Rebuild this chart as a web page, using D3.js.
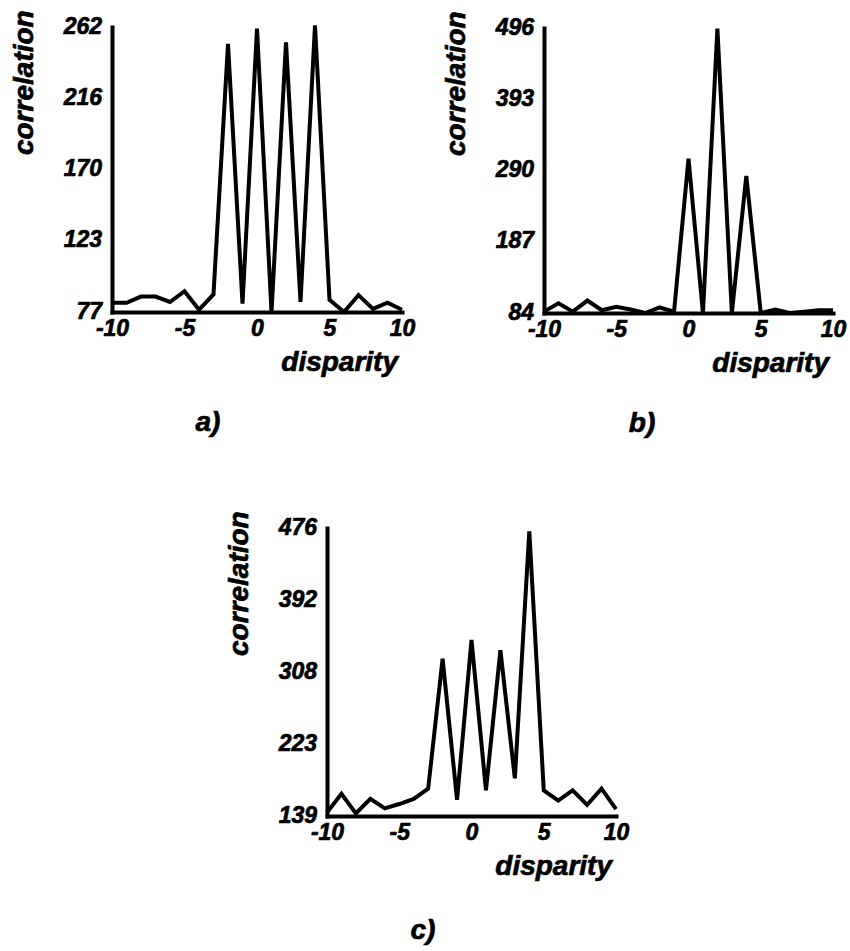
<!DOCTYPE html>
<html lang="en">
<head>
    <meta charset="UTF-8">
    <title>Correlation vs disparity</title>
    <script src="https://d3js.org/d3.v7.min.js"></script>
    <style>
        body { margin: 0; background: #fff; }
        text { font-family: "Liberation Sans", Arial, Helvetica, sans-serif; font-weight: bold; font-style: italic; fill: #000; stroke: #000; stroke-width: 0.7; }
        .line { fill: none; stroke: #000; stroke-width: 4; stroke-linejoin: miter; stroke-miterlimit: 6; }
        .axis path { stroke: #000; stroke-width: 4; stroke-linecap: square; }
        .axis text { font-size: 23px; }
    </style>
</head>
<body>
<svg id="chart" width="850" height="951"></svg>
<script>
    // disparity values, shared by all three panels
    const disparity = d3.range(-10, 11);
    const xTicks = [-10, -5, 0, 5, 10];

    // correlation
    const corrA = [83, 83, 87, 87, 83.5, 90.5, 78.5, 88.5, 251, 82.5, 261, 77, 252, 83.5, 263, 85, 77, 88, 79, 83, 78.5];
    const corrB = [86, 98, 86, 102, 88, 93, 89, 84, 92, 86, 307, 84, 495, 84, 282, 84, 89, 84, 86, 88, 88];
    const corrC = [143, 165, 142, 159, 148, 153, 159, 171, 323, 158, 345, 169, 333, 183, 472, 169, 157, 169, 152, 171, 147];

    // y range of each panel (min, max) and the rounded tick labels
    const rangeA = [77, 262], ticksA = ["77", "123", "170", "216", "262"];
    const rangeB = [84, 496], ticksB = ["84", "187", "290", "393", "496"];
    const rangeC = [139, 476], ticksC = ["139", "223", "308", "392", "476"];

    const panels = [
        { values: corrA, range: rangeA, labels: ticksA, tag: "a)", x0: 112, x1: 402, top: 27, bottom: 312, tagX: 208, tagY: 431 },
        { values: corrB, range: rangeB, labels: ticksB, tag: "b)", x0: 544, x1: 833, top: 28, bottom: 313, tagX: 642, tagY: 432 },
        { values: corrC, range: rangeC, labels: ticksC, tag: "c)", x0: 327, x1: 616, top: 528, bottom: 816, tagX: 423, tagY: 939 }
    ];

    const svg = d3.select("#chart");

    panels.forEach(p => {
        const x = d3.scaleLinear().domain([-10, 10]).range([p.x0, p.x1]);
        const y = d3.scaleLinear().domain(p.range).range([p.bottom, p.top]);
        const step = (p.range[1] - p.range[0]) / 4;
        const yTickVals = d3.range(5).map(i => p.range[0] + i * step);

        // x axis (plain hyphen for negatives, like the original)
        const gx = svg.append("g").attr("class", "axis")
            .attr("transform", `translate(0,${p.bottom})`)
            .call(d3.axisBottom(x).tickValues(xTicks).tickSize(0).tickPadding(0)
                .tickFormat(d => String(d)));
        gx.selectAll("text").attr("y", 24).attr("dy", 0);

        // y axis
        const gy = svg.append("g").attr("class", "axis")
            .attr("transform", `translate(${p.x0},0)`)
            .call(d3.axisLeft(y).tickValues(yTickVals).tickSize(0).tickPadding(10)
                .tickFormat((d, i) => p.labels[i]));
        gy.selectAll("text").attr("dy", 6);
        svg.selectAll(".axis").attr("font-family", null).attr("font-size", null);

        // data line
        svg.append("path").datum(p.values).attr("class", "line")
            .attr("d", d3.line().x((d, i) => x(disparity[i])).y(d => y(d)));

        // axis titles
        svg.append("text").attr("x", p.x1 - 4).attr("y", p.bottom + 59)
            .attr("text-anchor", "end").style("font-size", "28px").text("disparity");
        svg.append("text")
            .attr("transform", `translate(${p.x0 - 79},${p.top + 128}) rotate(-90)`)
            .attr("text-anchor", "start").style("font-size", "28px").text("correlation");

        // panel tag
        svg.append("text").attr("x", p.tagX).attr("y", p.tagY)
            .attr("text-anchor", "middle").style("font-size", "28px").text(p.tag);
    });
</script>
</body>
</html>
